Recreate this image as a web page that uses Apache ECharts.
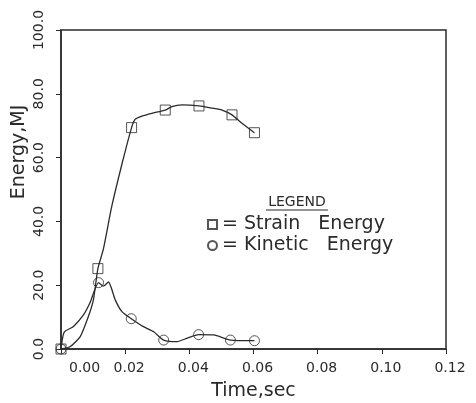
<!DOCTYPE html>
<html>
<head>
<meta charset="utf-8">
<script src="https://cdn.jsdelivr.net/npm/echarts@6/dist/echarts.min.js"></script>
<style>
  html, body { margin: 0; padding: 0; background: #fff; }
  #main { width: 476px; height: 403px; }
</style>
</head>
<body>
<div id="main"></div>
<script>
// x ticks / y ticks
const xTicks = [0, 0.02, 0.04, 0.06, 0.08, 0.10, 0.12]
const yTicks = [0, 20, 40, 60, 80, 100]

// strain energy curve (time, MJ)
const strainTime = [0, 0.0028, 0.006, 0.0085, 0.0101, 0.0115, 0.0132, 0.0158, 0.019, 0.022, 0.0231, 0.0252, 0.0283, 0.0325, 0.0346, 0.0377, 0.043, 0.0471, 0.0502, 0.0533, 0.0565, 0.0603]
const strainValue = [0, 0.7, 3.9, 10.1, 15.4, 25.2, 31.3, 44.6, 58, 69.4, 72, 73, 73.9, 74.9, 76, 76.5, 76.2, 75.5, 74.9, 73.4, 70.7, 67.8]
// strain markers
const strainMarkTime = [0, 0.0115, 0.022, 0.0325, 0.043, 0.0533, 0.0603]
const strainMarkValue = [0, 25.2, 69.4, 74.9, 76.2, 73.4, 67.8]

// kinetic energy curve
const kineticTime = [0, 0.001, 0.0038, 0.007, 0.009, 0.0117, 0.0132, 0.0148, 0.0169, 0.019, 0.0219, 0.0257, 0.0289, 0.032, 0.0362, 0.0393, 0.0429, 0.0476, 0.0528, 0.0603]
const kineticValue = [0, 5.3, 7, 10.7, 14.4, 20.8, 19.7, 21, 15.4, 11.7, 9.5, 7, 5.4, 2.8, 2.3, 3.4, 4.5, 4.4, 2.8, 2.6]
// kinetic markers
const kineticMarkTime = [0, 0.0117, 0.0219, 0.032, 0.0429, 0.0528, 0.0603]
const kineticMarkValue = [0, 20.8, 9.5, 2.8, 4.5, 2.8, 2.6]

const zip = (a, b) => a.map((t, i) => [t, b[i]])
const ink = '#2b2b2b'
const font = 'DejaVu Sans'

const chart = echarts.init(document.getElementById('main'))
chart.setOption({
  animation: false,
  backgroundColor: '#fff',
  grid: {
    left: 61,
    right: 30,
    top: 30,
    bottom: 54,
    show: true,
    borderColor: ink,
    borderWidth: 1.5,
    outerBoundsMode: 'none'
  },
  xAxis: {
    type: 'value',
    min: xTicks[0],
    max: xTicks[xTicks.length - 1],
    interval: 0.02,
    name: 'Time,sec',
    nameLocation: 'middle',
    nameGap: 33,
    nameTextStyle: { color: ink, fontSize: 19, fontFamily: font },
    axisLine: { lineStyle: { color: ink, width: 1.5 } },
    axisTick: { show: true, length: 5, lineStyle: { color: ink } },
    splitLine: { show: false },
    axisLabel: {
      color: ink,
      fontSize: 14,
      fontFamily: font,
      margin: 12,
      padding: [0, 0, 0, 8],
      alignMinLabel: 'left',
      formatter: v => v.toFixed(2)
    }
  },
  yAxis: {
    type: 'value',
    min: yTicks[0],
    max: yTicks[yTicks.length - 1],
    interval: 20,
    axisLine: { show: true, lineStyle: { color: ink, width: 1.5 } },
    axisTick: { show: true, length: 5, lineStyle: { color: ink } },
    splitLine: { show: false },
    axisLabel: {
      color: ink,
      fontSize: 14,
      fontFamily: font,
      rotate: 90,
      margin: 15,
      formatter: v => v.toFixed(1)
    }
  },
  graphic: [
    {
      type: 'text',
      x: 19,
      y: 152,
      rotation: Math.PI / 2,
      style: {
        text: 'Energy,MJ',
        fill: ink,
        font: '19px ' + font,
        align: 'center',
        verticalAlign: 'middle'
      }
    },
    {
      type: 'text',
      x: 297,
      y: 202,
      style: {
        text: 'LEGEND',
        fill: ink,
        font: '14px ' + font,
        align: 'center',
        verticalAlign: 'middle'
      }
    },
    {
      type: 'line',
      shape: { x1: 266, y1: 210, x2: 328, y2: 210 },
      style: { stroke: ink, lineWidth: 1.2 }
    }
  ],
  legend: {
    orient: 'vertical',
    left: 202,
    top: 210,
    itemWidth: 9,
    itemHeight: 9,
    itemGap: 2,
    data: ['Strain Energy', 'Kinetic Energy'],
    formatter: name => '= ' + name.replace(' ', '   '),
    textStyle: { color: ink, fontSize: 19, fontFamily: font }
  },
  series: [
    {
      name: 'strain curve',
      type: 'line',
      data: zip(strainTime, strainValue),
      smooth: 0.2,
      showSymbol: false,
      lineStyle: { color: ink, width: 1.3 }
    },
    {
      name: 'kinetic curve',
      type: 'line',
      data: zip(kineticTime, kineticValue),
      smooth: 0.2,
      showSymbol: false,
      lineStyle: { color: ink, width: 1.3 }
    },
    {
      name: 'Strain Energy',
      type: 'scatter',
      symbol: 'rect',
      symbolSize: 10,
      data: zip(strainMarkTime, strainMarkValue),
      itemStyle: { color: 'rgba(255,255,255,0)', borderColor: ink, borderWidth: 1 }
    },
    {
      name: 'Kinetic Energy',
      type: 'scatter',
      symbol: 'circle',
      symbolSize: 10,
      data: zip(kineticMarkTime, kineticMarkValue),
      itemStyle: { color: 'rgba(255,255,255,0)', borderColor: ink, borderWidth: 1 }
    }
  ]
})
</script>
</body>
</html>
